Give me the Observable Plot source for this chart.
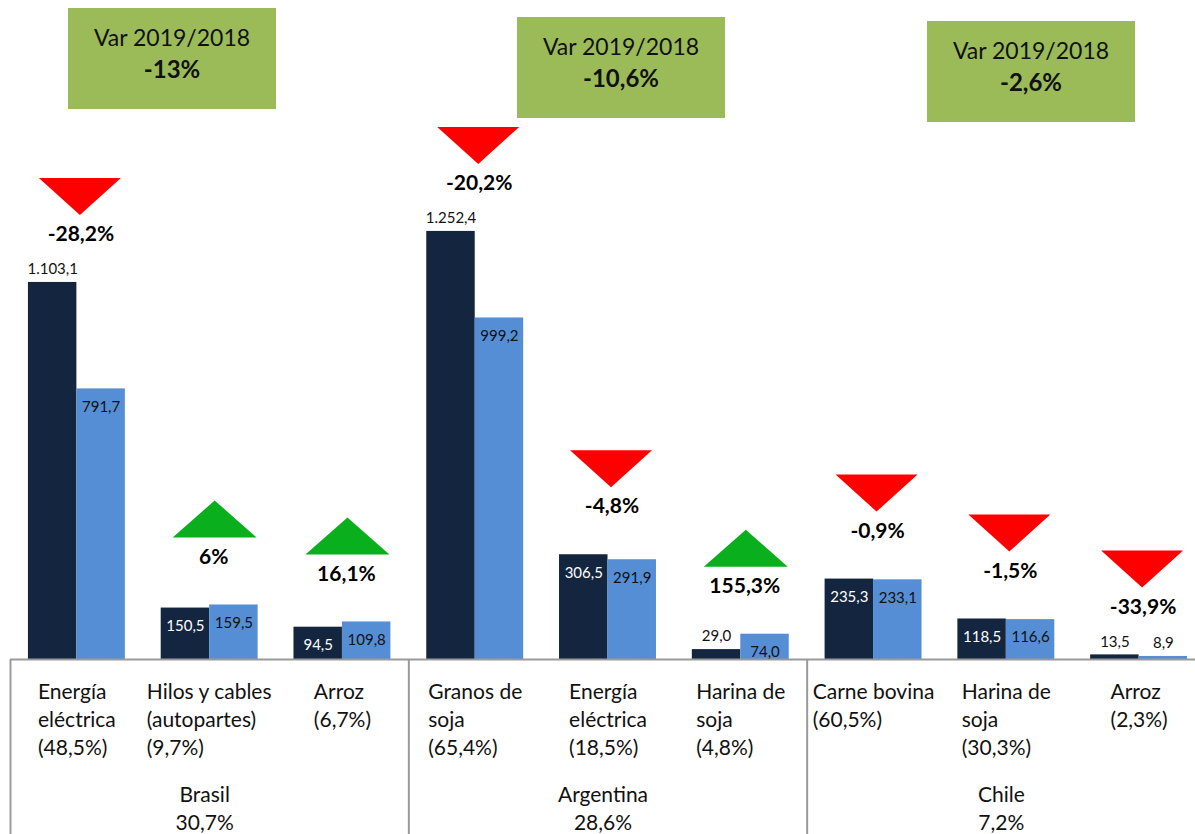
<!DOCTYPE html>
<html><head><meta charset="utf-8">
<script src="https://cdn.jsdelivr.net/npm/d3@7"></script>
<script src="https://cdn.jsdelivr.net/npm/@observablehq/plot@0.6"></script>
<style>
body{margin:0;background:#fff;font-family:Lato,"Open Sans",sans-serif;}
#wrap{position:relative;width:1195px;height:834px;overflow:hidden}
#wrap svg{position:absolute;left:0;top:0}
.box{position:absolute;width:208px;height:101px;background:#9bbb59;text-align:center;font-size:23px;color:#111;line-height:31px;padding-top:14px;box-sizing:border-box;z-index:2}
.box b{font-weight:700;font-size:24px}
</style></head><body><div id="wrap"></div>
<script>
// ---- data ----
const countries = ["Brasil", "Argentina", "Chile"];
const countryShare = [30.7, 28.6, 7.2];
const countryVar = [-13, -10.6, -2.6];
const categories = ["Energía\neléctrica", "Hilos y cables\n(autopartes)", "Arroz", "Granos de\nsoja", "Energía\neléctrica", "Harina de\nsoja", "Carne bovina", "Harina de\nsoja", "Arroz"];
const categoryCountry = ["Brasil", "Brasil", "Brasil", "Argentina", "Argentina", "Argentina", "Chile", "Chile", "Chile"];
const categoryShare = [48.5, 9.7, 6.7, 65.4, 18.5, 4.8, 60.5, 30.3, 2.3];
const values2018 = [1103.1, 150.5, 94.5, 1252.4, 306.5, 29.0, 235.3, 118.5, 13.5];
const values2019 = [791.7, 159.5, 109.8, 999.2, 291.9, 74.0, 233.1, 116.6, 8.9];
const variation = [-28.2, 6, 16.1, -20.2, -4.8, 155.3, -0.9, -1.5, -33.9];

// ---- formatting ----
const loc = d3.formatLocale({decimal: ",", thousands: ".", grouping: [3], currency: ["", ""], minus: "-"});
const fmtVal = loc.format(",.1f");
const fmtPct = v => loc.format(".1~f")(v) + "%";

const rows = categories.map((c, i) => ({
  key: categoryCountry[i] + "|" + i,
  country: categoryCountry[i],
  label: c + "\n(" + fmtPct(categoryShare[i]) + ")",
  v2018: values2018[i],
  v2019: values2019[i],
  max: Math.max(values2018[i], values2019[i]),
  variation: variation[i]
}));
const keys = rows.map(d => d.key);
const groups = countries.map((c, j) => {
  const members = rows.filter(d => d.country === c);
  return {country: c, first: members[0].key, middle: members[Math.floor(members.length / 2)].key,
    label: c + "\n" + fmtPct(countryShare[j]), variation: countryVar[j]};
});

// ---- layout ----
const W = 1195, H = 834;
const xRange = [10, 1205];
const padInner = 0.27, padOuter = 0.135;
const step = (xRange[1] - xRange[0]) / keys.length;
const bw = step * (1 - padInner);
const yDomain = [-512, 1928];

const inside = v => v >= 50 && v < 1000;

const down = {draw(ctx) { ctx.moveTo(-41, -18.5); ctx.lineTo(41, -18.5); ctx.lineTo(0, 18.5); ctx.closePath(); }};
const up = {draw(ctx) { ctx.moveTo(-42, 18.5); ctx.lineTo(42, 18.5); ctx.lineTo(0, -18.5); ctx.closePath(); }};

const dark = "#13253f", light = "#558ed5";
const labelSize = 21;

// measure category label blocks for left-aligned, centered blocks
const cv = document.createElement("canvas").getContext("2d");
cv.font = labelSize + "px Lato";
const labelMarks = rows.map(d => {
  const w = Math.max(...d.label.split("\n").map(l => cv.measureText(l).width));
  return Plot.text([d], {x: "key", y: () => 0, text: "label", textAnchor: "start", dx: -w / 2,
    dy: 20, lineAnchor: "top", lineHeight: 28 / labelSize, fontSize: labelSize, fill: "#111"});
});

const chart = Plot.plot({
  width: W, height: H,
  marginTop: 0, marginBottom: 0, marginLeft: 10, marginRight: 0,
  style: {fontFamily: "Lato, 'Open Sans', sans-serif", background: "transparent"},
  x: {type: "band", domain: keys, range: xRange, paddingInner: padInner, paddingOuter: padOuter, round: false, axis: null},
  y: {domain: yDomain, axis: null},
  marks: [
    Plot.barY(rows, {x: "key", y: "v2018", fill: dark, insetRight: bw / 2}),
    Plot.barY(rows, {x: "key", y: "v2019", fill: light, insetLeft: bw / 2}),
    Plot.ruleY([0], {stroke: "#9a9a9a", strokeWidth: 2}),
    Plot.ruleX(groups, {x: "first", y1: yDomain[0], y2: 0, dx: -step / 2, stroke: "#9a9a9a", strokeWidth: 2}),
    // value labels 2018
    Plot.text(rows.filter(d => inside(d.v2018)), {x: "key", y: "v2018", text: d => fmtVal(d.v2018), dx: -bw / 4, dy: 18, fill: "#fff", fontSize: 15}),
    Plot.text(rows.filter(d => !inside(d.v2018)), {x: "key", y: "v2018", text: d => fmtVal(d.v2018), dx: -bw / 4, dy: -13, fill: "#111", fontSize: 15}),
    // value labels 2019
    Plot.text(rows.filter(d => inside(d.v2019)), {x: "key", y: "v2019", text: d => fmtVal(d.v2019), dx: bw / 4, dy: 18, fill: "#111", fontSize: 15}),
    Plot.text(rows.filter(d => !inside(d.v2019)), {x: "key", y: "v2019", text: d => fmtVal(d.v2019), dx: bw / 4, dy: -13, fill: "#111", fontSize: 15}),
    // variation markers
    Plot.dot(rows.filter(d => d.variation < 0), {x: "key", y: "max", symbol: down, fill: "#ff0000", dy: -86, dx: 3}),
    Plot.dot(rows.filter(d => d.variation >= 0), {x: "key", y: "max", symbol: up, fill: "#0aaf1e", dy: -86, dx: 5}),
    Plot.text(rows, {x: "key", y: "max", text: d => fmtPct(d.variation), dy: -48, dx: 4, fontSize: 21, fontWeight: "bold", fill: "#000"}),
    // category labels
    ...labelMarks,
    // country labels
    Plot.text(groups, {x: "middle", y: () => 0, text: "label", dy: 123, lineAnchor: "top", lineHeight: 28 / labelSize, fontSize: labelSize, fill: "#111", dx: -5})
  ]
});

const wrap = document.getElementById("wrap");
wrap.appendChild(chart);

// variation boxes (annotations above the chart)
const boxPos = [[68, 8], [517, 17], [927, 21]];
groups.forEach((g, j) => {
  const div = document.createElement("div");
  div.className = "box";
  div.style.left = boxPos[j][0] + "px";
  div.style.top = boxPos[j][1] + "px";
  div.innerHTML = "Var 2019/2018<br><b>" + fmtPct(g.variation) + "</b>";
  wrap.appendChild(div);
});
</script>
</body></html>
